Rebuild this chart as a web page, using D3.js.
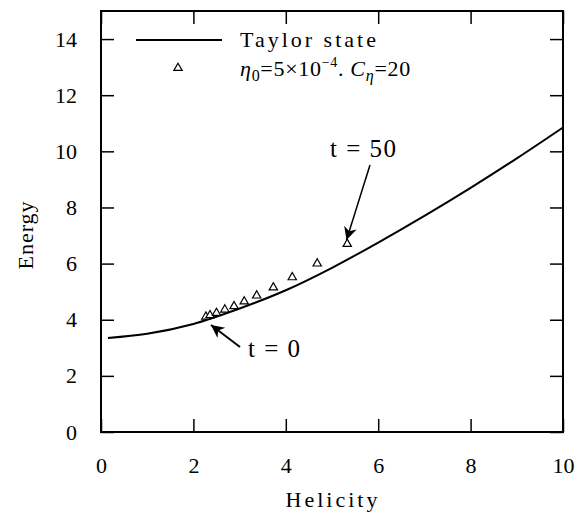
<!DOCTYPE html>
<html>
<head>
<meta charset="utf-8">
<script src="https://cdn.jsdelivr.net/npm/d3@7"></script>
<style>
  body { margin: 0; background: #fff; }
  svg text { font-family: "Liberation Serif", "Times New Roman", serif !important; fill: #000; }
</style>
</head>
<body>
<div id="chart"></div>
<script>
// Taylor state curve (helicity, energy)
const taylorH = [0.15, 1, 2, 3, 4, 5, 6, 7, 8, 9, 10];
const taylorE = [3.35, 3.5, 3.85, 4.4, 5.05, 5.85, 6.75, 7.7, 8.7, 9.75, 10.85];

// simulation points, eta0 = 5e-4, C_eta = 20
const simH = [2.27, 2.36, 2.50, 2.68, 2.88, 3.10, 3.37, 3.73, 4.14, 4.68, 5.33];
const simE = [4.11, 4.16, 4.24, 4.36, 4.48, 4.65, 4.86, 5.15, 5.51, 6.00, 6.70];

const xTicks = [0, 2, 4, 6, 8, 10];
const yTicks = [0, 2, 4, 6, 8, 10, 12, 14];

const width = 587, height = 519;
const margin = {top: 11, right: 24, bottom: 87, left: 101};
const w = width - margin.left - margin.right;
const h = height - margin.top - margin.bottom;
const serif = '"Liberation Serif", "Times New Roman", serif';

const svg = d3.select("#chart").append("svg")
    .attr("width", width)
    .attr("height", height);

const g = svg.append("g")
    .attr("transform", "translate(" + margin.left + "," + margin.top + ")");

const x = d3.scaleLinear().domain([0, 10]).range([0, w]);
const y = d3.scaleLinear().domain([0, 15]).range([h, 0]);

const tickLen = 13;

// axes with inward ticks
g.append("g").attr("transform", `translate(0,${h})`)
    .call(d3.axisBottom(x).tickValues(xTicks).tickSizeInner(-tickLen).tickSizeOuter(0).tickPadding(tickLen + 12))
    .call(a => a.select(".domain").remove());
g.append("g")
    .call(d3.axisTop(x).tickValues(xTicks).tickSizeInner(-tickLen).tickSizeOuter(0).tickFormat(""))
    .call(a => a.select(".domain").remove());
g.append("g")
    .call(d3.axisLeft(y).tickValues(yTicks).tickSizeInner(-tickLen).tickSizeOuter(0).tickPadding(tickLen + 11))
    .call(a => a.select(".domain").remove());
g.append("g").attr("transform", `translate(${w},0)`)
    .call(d3.axisRight(y).tickValues(yTicks).tickSizeInner(-tickLen).tickSizeOuter(0).tickFormat(""))
    .call(a => a.select(".domain").remove());

g.selectAll("g").attr("font-family", serif);
g.selectAll(".tick line").attr("stroke", "#000").attr("stroke-width", 1.5);
g.selectAll(".tick text").style("font-size", "22px").style("font-family", serif).attr("fill", "#000");

g.append("rect")
    .attr("width", w).attr("height", h)
    .attr("fill", "none").attr("stroke", "#000").attr("stroke-width", 2);

// curve
const curveData = taylorH.map((d, i) => ({h: d, e: taylorE[i]}));
g.append("path")
    .datum(curveData)
    .attr("fill", "none")
    .attr("stroke", "#000")
    .attr("stroke-width", 2)
    .attr("d", d3.line().x(d => x(d.h)).y(d => y(d.e)).curve(d3.curveMonotoneX));

// triangles
const sim = simH.map((d, i) => ({h: d, e: simE[i]}));
const tri = d3.symbol().type(d3.symbolTriangle).size(30);
g.selectAll(".pt").data(sim).enter().append("path")
    .attr("class", "pt")
    .attr("transform", d => `translate(${x(d.h)},${y(d.e)})`)
    .attr("d", tri)
    .attr("fill", "#fff")
    .attr("stroke", "#000")
    .attr("stroke-width", 1.2);

// legend
g.append("line")
    .attr("x1", 35).attr("x2", 121).attr("y1", 29).attr("y2", 29)
    .attr("stroke", "#000").attr("stroke-width", 2);
g.append("text").attr("x", 139).attr("y", 36)
    .style("font-size", "22px").style("letter-spacing", "3px")
    .text("Taylor state");
g.append("path")
    .attr("transform", "translate(77,57)")
    .attr("d", tri)
    .attr("fill", "#fff").attr("stroke", "#000").attr("stroke-width", 1.2);
const leg2 = g.append("text").attr("x", 139).attr("y", 65)
    .style("font-size", "22px").style("letter-spacing", "0.7px");
leg2.append("tspan").style("font-style", "italic").text("η");
leg2.append("tspan").attr("dy", 5).style("font-size", "16px").text("0");
leg2.append("tspan").attr("dy", -5).text("=5×10");
leg2.append("tspan").attr("dy", -9).style("font-size", "14px").text("−4");
leg2.append("tspan").attr("dy", 9).text(". ");
leg2.append("tspan").style("font-style", "italic").text("C");
leg2.append("tspan").attr("dy", 5).style("font-size", "16px").style("font-style", "italic").text("η");
leg2.append("tspan").attr("dy", -5).text("=20");

// arrows
svg.append("defs").append("marker")
    .attr("id", "arr")
    .attr("viewBox", "0 0 10 10")
    .attr("refX", 10).attr("refY", 5)
    .attr("markerWidth", 17).attr("markerHeight", 13)
    .attr("markerUnits", "userSpaceOnUse")
    .attr("orient", "auto")
    .append("path").attr("d", "M0,0 L10,5 L0,10 L3,5 Z").attr("fill", "#000");

g.append("line")
    .attr("x1", 269).attr("y1", 154).attr("x2", 245.5).attr("y2", 229)
    .attr("stroke", "#000").attr("stroke-width", 1.5)
    .attr("marker-end", "url(#arr)");
g.append("text").attr("x", 229).attr("y", 146)
    .style("font-size", "25px").style("letter-spacing", "1.5px").text("t = 50");

g.append("line")
    .attr("x1", 139).attr("y1", 336).attr("x2", 110).attr("y2", 314)
    .attr("stroke", "#000").attr("stroke-width", 2)
    .attr("marker-end", "url(#arr)");
g.append("text").attr("x", 147).attr("y", 346)
    .style("font-size", "25px").style("letter-spacing", "1.5px").text("t = 0");

// axis titles
svg.append("text")
    .attr("transform", "translate(33,235) rotate(-90)")
    .attr("text-anchor", "middle")
    .style("font-size", "22px").style("letter-spacing", "1px")
    .text("Energy");
svg.append("text")
    .attr("x", 333).attr("y", 507)
    .attr("text-anchor", "middle")
    .style("font-size", "22px").style("letter-spacing", "3px")
    .text("Helicity");
</script>
</body>
</html>
